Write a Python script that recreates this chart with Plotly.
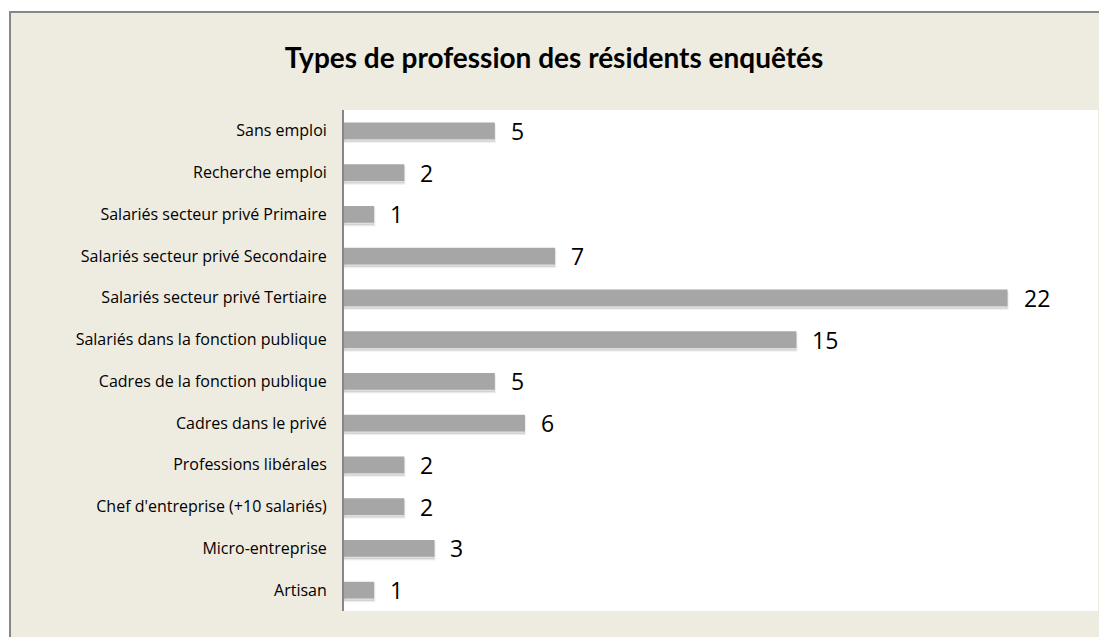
import plotly.graph_objects as go

categories = [
    "Sans emploi",
    "Recherche emploi",
    "Salariés secteur privé Primaire",
    "Salariés secteur privé Secondaire",
    "Salariés secteur privé Tertiaire",
    "Salariés dans la fonction publique",
    "Cadres de la fonction publique",
    "Cadres dans le privé",
    "Professions libérales",
    "Chef d'entreprise (+10 salariés)",
    "Micro-entreprise",
    "Artisan",
]
values = [5, 2, 1, 7, 22, 15, 5, 6, 2, 2, 3, 1]
title_text = "Types de profession des résidents enquêtés"

# page has an 8px body margin: shift figure coordinates by -8
OFF = 8
W, H = 1107, 637
ML, MR, MT, MB = 344 - OFF, W - (1098 - OFF), 110 - OFF, H - (611 - OFF)
pw = W - ML - MR
ph = H - MT - MB

def px_x(p):
    return (p - OFF - ML) / pw

def px_y(p):
    return (H - MB - (p - OFF)) / ph

fig = go.Figure()

# soft shadow
fig.add_trace(go.Bar(
    y=categories, x=values, orientation="h",
    marker=dict(color="rgba(0,0,0,0.12)", line=dict(width=2.5, color="rgba(0,0,0,0.06)")),
    width=0.4, offset=-0.2 + 0.06,
    hoverinfo="skip", showlegend=False,
))
fig.add_trace(go.Bar(
    y=categories, x=values, orientation="h",
    marker=dict(color="#A6A6A6", line=dict(width=0)),
    width=0.4, offset=-0.2,
    showlegend=False,
))

for c, v in zip(categories, values):
    fig.add_annotation(
        x=v, y=c, xref="x", yref="y", text=str(v), showarrow=False,
        xanchor="left", xshift=14, yshift=0,
        font=dict(family="Open Sans, sans-serif", size=23, color="#000000"),
    )

# outer frame (beige area with gray border)
fig.add_shape(
    type="rect", xref="paper", yref="paper",
    x0=px_x(10), x1=px_x(W + 40), y0=px_y(H + 40), y1=px_y(12),
    fillcolor="#EEEBE0", line=dict(color="#878787", width=2), layer="below",
)
fig.add_shape(
    type="rect", xref="paper", yref="paper",
    x0=0, x1=1, y0=0, y1=1,
    fillcolor="#FFFFFF", line=dict(width=0), layer="below",
)

fig.update_layout(
    width=W, height=H,
    margin=dict(l=ML, r=MR, t=MT, b=MB),
    paper_bgcolor="#FFFFFF",
    plot_bgcolor="rgba(0,0,0,0)",
    barmode="overlay",
    title=dict(
        text="<b>" + title_text + "</b>",
        x=(554 - OFF) / W, xanchor="center", y=1 - (58 - OFF) / H, yanchor="middle",
        font=dict(family="Lato, Open Sans, sans-serif", size=28, color="#000000"),
    ),
    xaxis=dict(range=[0, 25], visible=False, fixedrange=True),
    yaxis=dict(
        categoryorder="array", categoryarray=categories, autorange="reversed",
        showline=True, linecolor="#868686", linewidth=2,
        ticks="", showgrid=False, ticklabelstandoff=12,
        tickfont=dict(family="Open Sans, sans-serif", size=16, color="#000000"),
    ),
    font=dict(family="Open Sans, sans-serif"),
)

fig.write_html("out.html")
